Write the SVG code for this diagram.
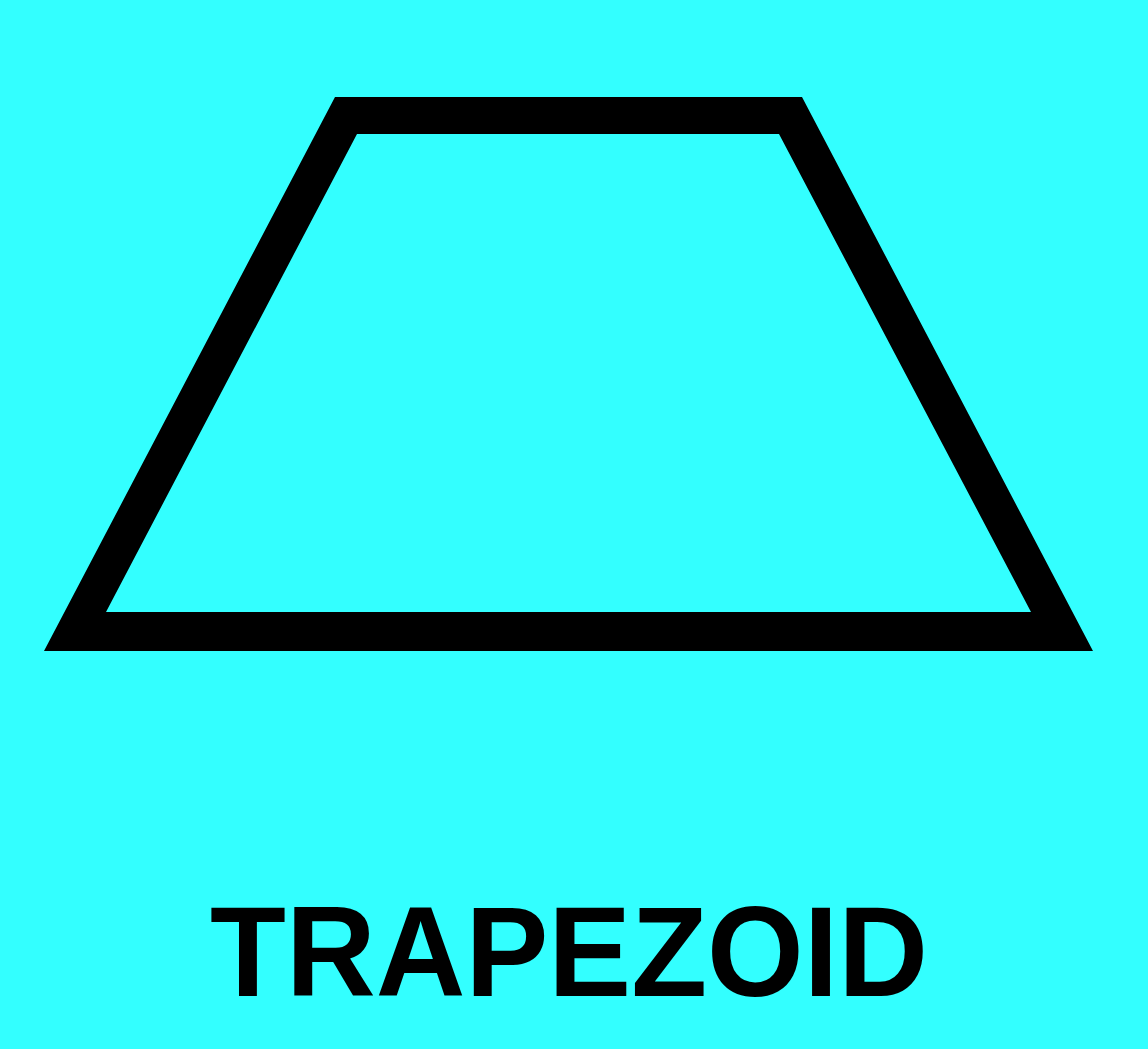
<svg xmlns="http://www.w3.org/2000/svg" width="1148" height="1049" viewBox="0 0 1148 1049">
<style>
.shape{fill:#000;fill-rule:evenodd}
.label{font-family:"Liberation Sans",Arial,sans-serif;font-weight:bold;font-size:128px;fill:#000}
</style>
<rect width="1148" height="1049" fill="#33FFFF"/>
<g id="trapezoid">
<path class="shape" d="M335,97 L802,97 L1093,651 L44,651 Z M357,134 L106,612 L1031,612 L779,134 Z"/>
</g>
<g id="connectors"/>
<g id="title">
<text class="label" x="569" y="996" text-anchor="middle" textLength="718" lengthAdjust="spacingAndGlyphs">TRAPEZOID</text>
</g>
</svg>
